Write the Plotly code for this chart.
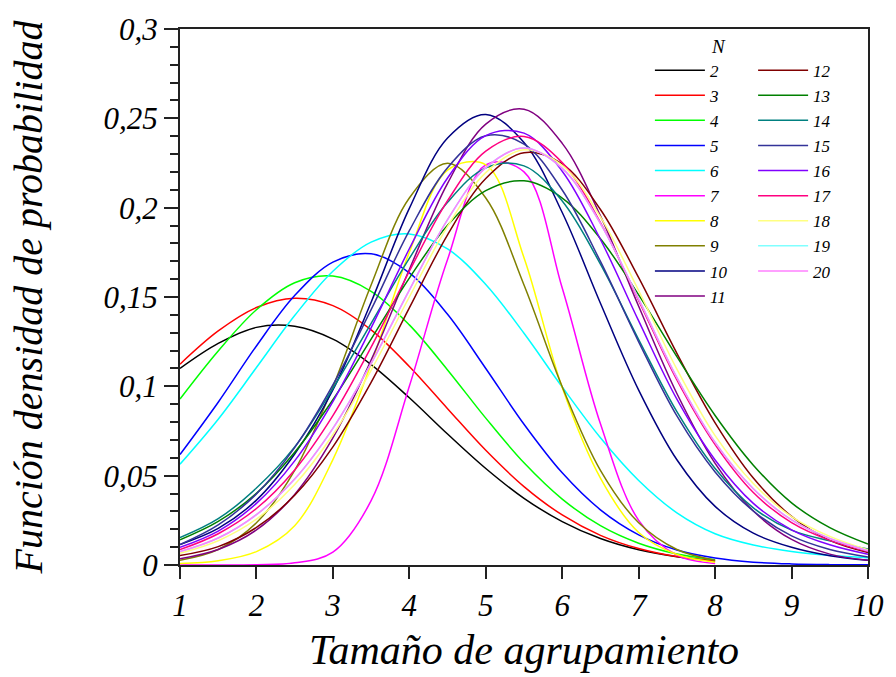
import plotly.graph_objects as go

X = [1.0, 1.5, 2.0, 2.5, 3.0, 3.5, 4.0, 4.5, 5.0, 5.5, 6.0, 6.5, 7.0, 7.5, 8.0, 8.5, 9.0, 9.5, 10.0]

N2 = [0.110, 0.124, 0.133, 0.1336, 0.1264, 0.1122, 0.0936, 0.0733, 0.054, 0.0373, 0.0243, 0.0148, 0.0085, 0.0046, 0.0023]
N3 = [0.1124, 0.131, 0.1441, 0.1493, 0.1452, 0.1316, 0.1111, 0.0875, 0.0642, 0.0439, 0.0280, 0.0166, 0.0092, 0.0047, 0.0023]
N4 = [0.0929, 0.1198, 0.1429, 0.158, 0.1617, 0.1532, 0.1344, 0.1092, 0.0822, 0.0572, 0.0369, 0.0220, 0.0122, 0.0062, 0.0030]
N5 = [0.0618, 0.0911, 0.1226, 0.1508, 0.1695, 0.1742, 0.1635, 0.1403, 0.1100, 0.0788, 0.0516, 0.0309, 0.0169, 0.0084, 0.0039, 0.0016, 0.0006, 0.0002, 0.0001]
N6 = [0.0564, 0.0816, 0.1105, 0.1396, 0.1644, 0.1807, 0.1853, 0.1769, 0.1570, 0.1297, 0.0996, 0.0712, 0.0473, 0.0292, 0.0175, 0.0112, 0.0076, 0.0054, 0.0040]
N7 = [0.0, 0.0, 0.0002, 0.0012, 0.0072, 0.036, 0.100, 0.171, 0.224, 0.220, 0.155, 0.079, 0.025, 0.0055, 0.0008]
N8 = [0.0008, 0.0024, 0.0075, 0.0220, 0.0590, 0.1125, 0.1750, 0.2210, 0.2240, 0.1720, 0.0993, 0.0486, 0.0182, 0.0059, 0.0016]
N9 = [0.0027, 0.0087, 0.0236, 0.053, 0.0998, 0.1567, 0.2054, 0.2248, 0.2054, 0.1567, 0.0998, 0.053, 0.0236, 0.0087, 0.0027]
N10 = [0.0115, 0.0205, 0.0363, 0.0621, 0.098, 0.1471, 0.1996, 0.2390, 0.2522, 0.2365, 0.1973, 0.1465, 0.0979, 0.0589, 0.0328, 0.0178, 0.0099, 0.0052, 0.0026]
N11 = [0.0035, 0.0087, 0.0196, 0.0395, 0.0711, 0.1147, 0.1654, 0.2136, 0.2468, 0.2551, 0.2360, 0.1954, 0.1448, 0.0960, 0.0569, 0.0302, 0.0143, 0.0061, 0.0026]
N12 = [0.0053, 0.0103, 0.0210, 0.0390, 0.0661, 0.1022, 0.1439, 0.1848, 0.2163, 0.2308, 0.2245, 0.1990, 0.1608, 0.1185, 0.0796, 0.0487, 0.0272, 0.0138, 0.0070]
N13 = [0.0141, 0.0244, 0.0401, 0.0631, 0.0925, 0.1264, 0.1606, 0.1901, 0.2095, 0.2150, 0.2054, 0.1826, 0.1512, 0.1166, 0.0837, 0.0559, 0.0348, 0.0209, 0.0117]
N14 = [0.0153, 0.0259, 0.0431, 0.0661, 0.0988, 0.1353, 0.1716, 0.2030, 0.2223, 0.2234, 0.2037, 0.1684, 0.1262, 0.0858, 0.054, 0.032, 0.0195, 0.0135, 0.0089]
N15 = [0.0114, 0.0224, 0.0398, 0.0657, 0.1008, 0.1429, 0.1871, 0.2224, 0.2402, 0.2356, 0.2099, 0.1699, 0.1249, 0.0834, 0.0521, 0.0302, 0.0163, 0.0087, 0.0045]
N16 = [0.0099, 0.0190, 0.0345, 0.0583, 0.0915, 0.1327, 0.1770, 0.2166, 0.2403, 0.2417, 0.2204, 0.1822, 0.1366, 0.0928, 0.0588, 0.0345, 0.0197, 0.0113, 0.0060]
N17 = [0.0086, 0.0175, 0.0316, 0.0532, 0.0836, 0.1219, 0.1644, 0.2039, 0.2316, 0.2398, 0.2252, 0.1917, 0.1480, 0.1036, 0.0674, 0.0406, 0.0237, 0.0138, 0.0075]
N18 = [0.0066, 0.0136, 0.0257, 0.0450, 0.0729, 0.1090, 0.1500, 0.1895, 0.2196, 0.2324, 0.2237, 0.1948, 0.1536, 0.1096, 0.0724, 0.0456, 0.0271, 0.0160, 0.0085]
N19 = [0.0075, 0.0151, 0.0282, 0.0481, 0.0765, 0.1128, 0.1539, 0.1933, 0.2224, 0.2334, 0.2220, 0.1911, 0.1488, 0.1049, 0.0686, 0.0427, 0.0252, 0.0148, 0.0080]
N20 = [0.0075, 0.0151, 0.0282, 0.0481, 0.0765, 0.1128, 0.1539, 0.1933, 0.2224, 0.2334, 0.2220, 0.1911, 0.1488, 0.1049, 0.0686, 0.0427, 0.0252, 0.0148, 0.0080]

SERIES_NAMES = ["2", "3", "4", "5", "6", "7", "8", "9", "10", "11",
                "12", "13", "14", "15", "16", "17", "18", "19", "20"]
SERIES = [N2, N3, N4, N5, N6, N7, N8, N9, N10, N11,
          N12, N13, N14, N15, N16, N17, N18, N19, N20]
COLORS = ["#000000", "#ff0000", "#00ff00", "#0000ff", "#00ffff", "#ff00ff",
          "#ffff00", "#808000", "#000080", "#800080", "#800000", "#008000",
          "#008080", "#333399", "#8000ff", "#ff0080", "#ffff80", "#80ffff",
          "#ff80ff"]

FONT = "Liberation Serif, Times New Roman, serif"

fig = go.Figure()
for i, (name, ys, col) in enumerate(zip(SERIES_NAMES, SERIES, COLORS)):
    fig.add_trace(go.Scatter(
        x=X[:len(ys)], y=ys, mode="lines", name=name,
        line=dict(color=col, width=1.5, shape="spline", smoothing=1.0),
        legend="legend" if i < 10 else "legend2",
        hoverinfo="skip",
    ))

leg_common = dict(
    font=dict(family=FONT, size=17, color="black", style="italic"),
    bgcolor="rgba(0,0,0,0)", borderwidth=0, tracegroupgap=0,
    itemwidth=50, yanchor="top", xanchor="left",
)
fig.update_layout(
    width=896, height=677,
    margin=dict(l=180, r=19, t=20, b=109),
    paper_bgcolor="white", plot_bgcolor="white",
    separators=",.",
    showlegend=True,
    legend=dict(x=0.683, y=0.956, **leg_common),
    legend2=dict(x=0.833, y=0.956, **leg_common),
    font=dict(family=FONT, color="black"),
    xaxis=dict(
        range=[1, 10], dtick=1, tick0=1,
        showline=True, linecolor="#222", linewidth=2, mirror=True,
        ticks="outside", ticklen=12, tickwidth=2, tickcolor="#222",
        showgrid=False, zeroline=False,
        tickfont=dict(family=FONT, size=31, style="italic"),
        title=dict(text="Tamaño de agrupamiento", standoff=12,
                   font=dict(family=FONT, size=42, style="italic")),
    ),
    yaxis=dict(
        range=[0, 0.3], dtick=0.05, tick0=0,
        showline=True, linecolor="#222", linewidth=2, mirror=True,
        ticks="outside", ticklen=14, tickwidth=2, tickcolor="#222",
        minor=dict(dtick=0.01, ticks="outside", ticklen=8, tickwidth=1.5, tickcolor="#222"),
        showgrid=False, zeroline=False,
        tickfont=dict(family=FONT, size=31, style="italic"),
        title=dict(text="Función densidad de probabilidad", standoff=49,
                   font=dict(family=FONT, size=40, style="italic")),
    ),
    annotations=[dict(
        text="N", x=0.782, y=0.967, xref="paper", yref="paper",
        showarrow=False, xanchor="center", yanchor="middle",
        font=dict(family=FONT, size=19, style="italic", color="black"),
    )],
)

fig.write_html("out.html")
